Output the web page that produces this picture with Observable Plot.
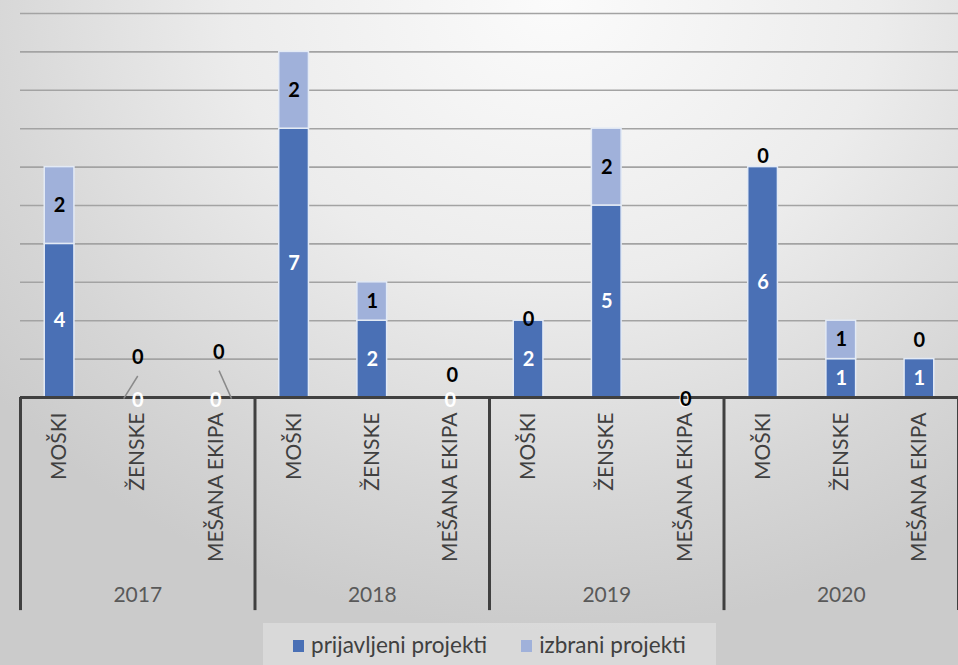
<!DOCTYPE html>
<html>
<head>
<meta charset="utf-8">
<script src="https://cdn.jsdelivr.net/npm/d3@7"></script>
<script src="https://cdn.jsdelivr.net/npm/@observablehq/plot@0.6"></script>
<style>
  html, body { margin: 0; padding: 0; }
  body {
    width: 958px; height: 665px; overflow: hidden; position: relative;
    font-family: Lato, "Noto Sans", sans-serif;
    background: radial-gradient(ellipse 75% 95% at 58% 0%, #fbfbfb 0%, #ececec 45%, #d6d6d6 80%, #cbcbcb 100%);
  }
  #chart { position: absolute; left: 0; top: 0; }
  #legend {
    position: absolute; left: 263px; top: 623px; width: 453px; height: 42px;
    background: rgba(255,255,255,0.28);
    display: flex; align-items: center; justify-content: center; gap: 34px;
    font-size: 22.5px; color: #404040;
  }
  #legend .item { display: flex; align-items: center; gap: 7px; }
  #legend .sw { width: 11px; height: 12px; display: inline-block; margin-top: 4px; }
</style>
</head>
<body>
<div id="chart"></div>
<div id="legend"></div>
<script>
// ---- data ----
const years = ["2017", "2018", "2019", "2020"];
const categories = ["MOŠKI", "ŽENSKE", "MEŠANA EKIPA"];
const seriesNames = ["prijavljeni projekti", "izbrani projekti"];
const prijavljeni = [4, 0, 0, 7, 2, 0, 2, 5, 0, 6, 1, 1];
const izbrani     = [2, 0, 0, 2, 1, 0, 0, 2, 0, 0, 1, 0];
const yTicks = [0, 1, 2, 3, 4, 5, 6, 7, 8, 9, 10];
const colors = ["#4a70b5", "#a0b1da"];

// ---- derived table ----
const rows = prijavljeni.map((p, i) => ({
  idx: i, year: years[Math.floor(i / 3)], cat: categories[i % 3], p, s: izbrani[i]
}));
const segs = [];
rows.forEach(r => {
  segs.push({idx: r.idx, series: seriesNames[0], value: r.p, y1: 0, y2: r.p});
  segs.push({idx: r.idx, series: seriesNames[1], value: r.s, y1: r.p, y2: r.p + r.s});
});

const half = 0.19;
const font = "Lato, 'Noto Sans', sans-serif";
const labelSize = 20;

const marks = [
  Plot.ruleY(yTicks.filter(d => d > 0), {stroke: "#a3a3a3", strokeWidth: 1.6}),
  Plot.rectY(segs.filter(d => d.value > 0), {
    x1: d => d.idx - half, x2: d => d.idx + half, y1: "y1", y2: "y2",
    fill: "series", stroke: "#e3eaf5", strokeWidth: 1.5
  }),
  Plot.ruleY([0], {stroke: "#404040", strokeWidth: 3}),
  Plot.ruleX(d3.range(-0.5, 12, 3), {y1: 0, y2: -5.55, stroke: "#404040", strokeWidth: 3}),
  // category tick labels
  Plot.axisX(rows.map(r => r.idx), {
    tickFormat: i => categories[i % 3], tickRotate: -90, tickSize: 0, tickPadding: 15,
    fontSize: 21, fill: "#404040", fontFamily: font, anchor: "bottom", label: null
  }),
  // year labels
  Plot.text(years, {x: (d, i) => i * 3 + 1, y: 0, dy: 198, text: d => d,
    fontSize: 21, fill: "#595959", fontFamily: font}),
  // values inside segments
  Plot.text(segs.filter(d => d.value > 0), {
    x: "idx", y: d => (d.y1 + d.y2) / 2, text: "value",
    fill: d => d.series === seriesNames[0] ? "white" : "black",
    fontWeight: "bold", fontSize: labelSize, fontFamily: font
  }),
  // white zeros of empty prijavljeni at baseline
  Plot.text(rows.filter(r => r.p === 0), {
    x: "idx", y: 0, dy: 3, text: () => "0", fill: "white",
    fontWeight: "bold", fontSize: labelSize, fontFamily: font
  })
];

// zero labels of "izbrani" series, nudged like the original
const nudges = {
  6: {dx: 0, dy: -1},
  9: {dx: 0, dy: -11},
  11: {dx: 0, dy: -19},
  1: {dx: 0, dy: -40, lead: [[-0.18, -0.03], [0, 0.56]]},
  2: {dx: 3, dy: -45, lead: [[0.2, -0.03], [0.04, 0.7]]},
  5: {dx: 2, dy: -22},
  8: {dx: 1, dy: 2}
};
rows.filter(r => r.s === 0).forEach(r => {
  const n = nudges[r.idx] || {dx: 0, dy: -10};
  if (n.lead) {
    marks.push(Plot.link([r], {
      x1: d => d.idx + n.lead[0][0], y1: () => n.lead[0][1],
      x2: d => d.idx + n.lead[1][0], y2: () => n.lead[1][1],
      stroke: "#8a8a8a", strokeWidth: 1.5
    }));
  }
  marks.push(Plot.text([r], {
    x: "idx", y: d => d.p + d.s, dx: n.dx, dy: n.dy, text: () => "0",
    fill: "black", fontWeight: "bold", fontSize: labelSize, fontFamily: font
  }));
});

const chart = Plot.plot({
  width: 958, height: 623,
  marginLeft: 20, marginRight: 0, marginTop: 13, marginBottom: 226,
  style: {background: "transparent", fontFamily: font, overflow: "visible"},
  x: {type: "linear", domain: [-0.5, 11.5], axis: null},
  y: {domain: [0, 10], axis: null},
  color: {domain: seriesNames, range: colors},
  marks
});
document.getElementById("chart").appendChild(chart);

// legend
const legend = document.getElementById("legend");
seriesNames.forEach((name, i) => {
  const item = document.createElement("span");
  item.className = "item";
  item.innerHTML = `<span class="sw" style="background:${colors[i]}"></span><span>${name}</span>`;
  legend.appendChild(item);
});
</script>
</body>
</html>
